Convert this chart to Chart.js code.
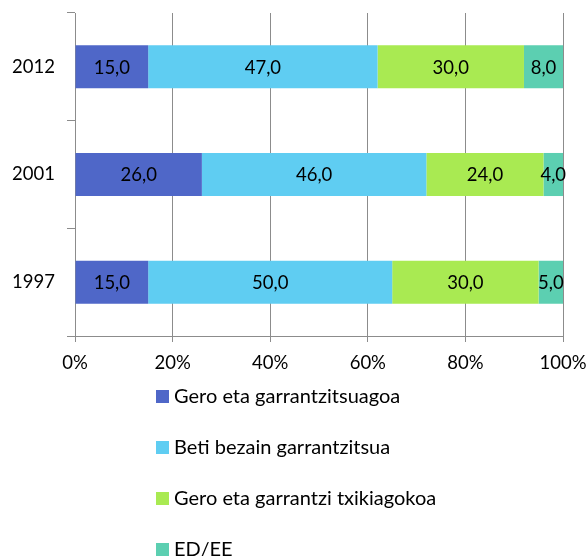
<!DOCTYPE html>
<html>
<head>
<meta charset="utf-8">
<script src="https://cdn.jsdelivr.net/npm/chart.js@4"></script>
<style>
  html, body { margin: 0; padding: 0; background: #fff; }
  #wrap { position: relative; width: 588px; height: 556px; }
  #legend { position: absolute; left: 156px; top: 383px; font-family: Lato, sans-serif; font-size: 20px; color: #000; }
  #legend .item { height: 51px; display: flex; align-items: flex-start; }
  #legend .box { width: 13px; height: 13px; margin: 7px 5px 0 0; }
</style>
</head>
<body>
<div id="wrap">
  <canvas id="chart" width="588" height="556"></canvas>
  <div id="legend"></div>
</div>
<script>
// data
const years = ['2012', '2001', '1997'];
const seriesNames = ['Gero eta garrantzitsuagoa', 'Beti bezain garrantzitsua', 'Gero eta garrantzi txikiagokoa', 'ED/EE'];
const moreImportant = [15, 26, 15];
const asImportant = [47, 46, 50];
const lessImportant = [30, 24, 30];
const noAnswer = [8, 4, 5];
const xTicks = [0, 20, 40, 60, 80, 100];

const colors = ['#4f67c8', '#5fcdf2', '#a9ea52', '#5ccfb1'];
const gridColor = '#8c8c8c';
const fontFamily = 'Lato, sans-serif';
const fontSize = 18.5;

// draws "15,0" style labels in the middle of each segment
const segmentLabels = {
  id: 'segmentLabels',
  afterDatasetsDraw(chart) {
    const ctx = chart.ctx;
    ctx.save();
    ctx.font = fontSize + 'px ' + fontFamily;
    ctx.fillStyle = '#000';
    ctx.textAlign = 'center';
    ctx.textBaseline = 'middle';
    chart.data.datasets.forEach((ds, i) => {
      chart.getDatasetMeta(i).data.forEach((bar, j) => {
        const txt = ds.data[j].toFixed(1).replace('.', ',');
        ctx.fillText(txt, (bar.x + bar.base) / 2, bar.y + 1);
      });
    });
    ctx.restore();
  }
};

// legend as a vertical list under the chart
const htmlLegend = {
  id: 'htmlLegend',
  afterUpdate(chart) {
    const box = document.getElementById('legend');
    box.innerHTML = chart.data.datasets.map(ds => `
      <div class="item"><span class="box" style="background:${ds.backgroundColor}"></span><span>${ds.label}</span></div>
    `).join('');
  }
};

new Chart(document.getElementById('chart'), {
  type: 'bar',
  data: {
    labels: years,
    datasets: [moreImportant, asImportant, lessImportant, noAnswer].map((vals, i) => ({
      label: seriesNames[i],
      data: vals,
      backgroundColor: colors[i],
      barPercentage: 0.4,
      categoryPercentage: 1
    }))
  },
  options: {
    indexAxis: 'y',
    responsive: false,
    animation: false,
    layout: { padding: { top: 13, right: 25, bottom: 180, left: 0 } },
    plugins: { legend: { display: false }, tooltip: { enabled: false } },
    scales: {
      x: {
        stacked: true,
        min: 0,
        max: 100,
        afterBuildTicks: s => { s.ticks = xTicks.map(v => ({ value: v })); },
        afterFit: s => { s.height = 40; s.paddingLeft = 0; s.paddingRight = 0; },
        grid: { color: gridColor, lineWidth: 1, tickLength: 6 },
        border: { color: gridColor, width: 1 },
        ticks: { color: '#000', font: { family: fontFamily, size: fontSize }, padding: 10, callback: v => v + '%' }
      },
      y: {
        stacked: true,
        afterFit: s => { s.width = 75; s.paddingTop = 0; s.paddingBottom = 0; },
        grid: { drawOnChartArea: false, color: gridColor, tickLength: 8 },
        border: { color: gridColor, width: 1 },
        ticks: { color: '#000', font: { family: fontFamily, size: fontSize }, padding: 12 }
      }
    }
  },
  plugins: [segmentLabels, htmlLegend]
});
</script>
</body>
</html>
